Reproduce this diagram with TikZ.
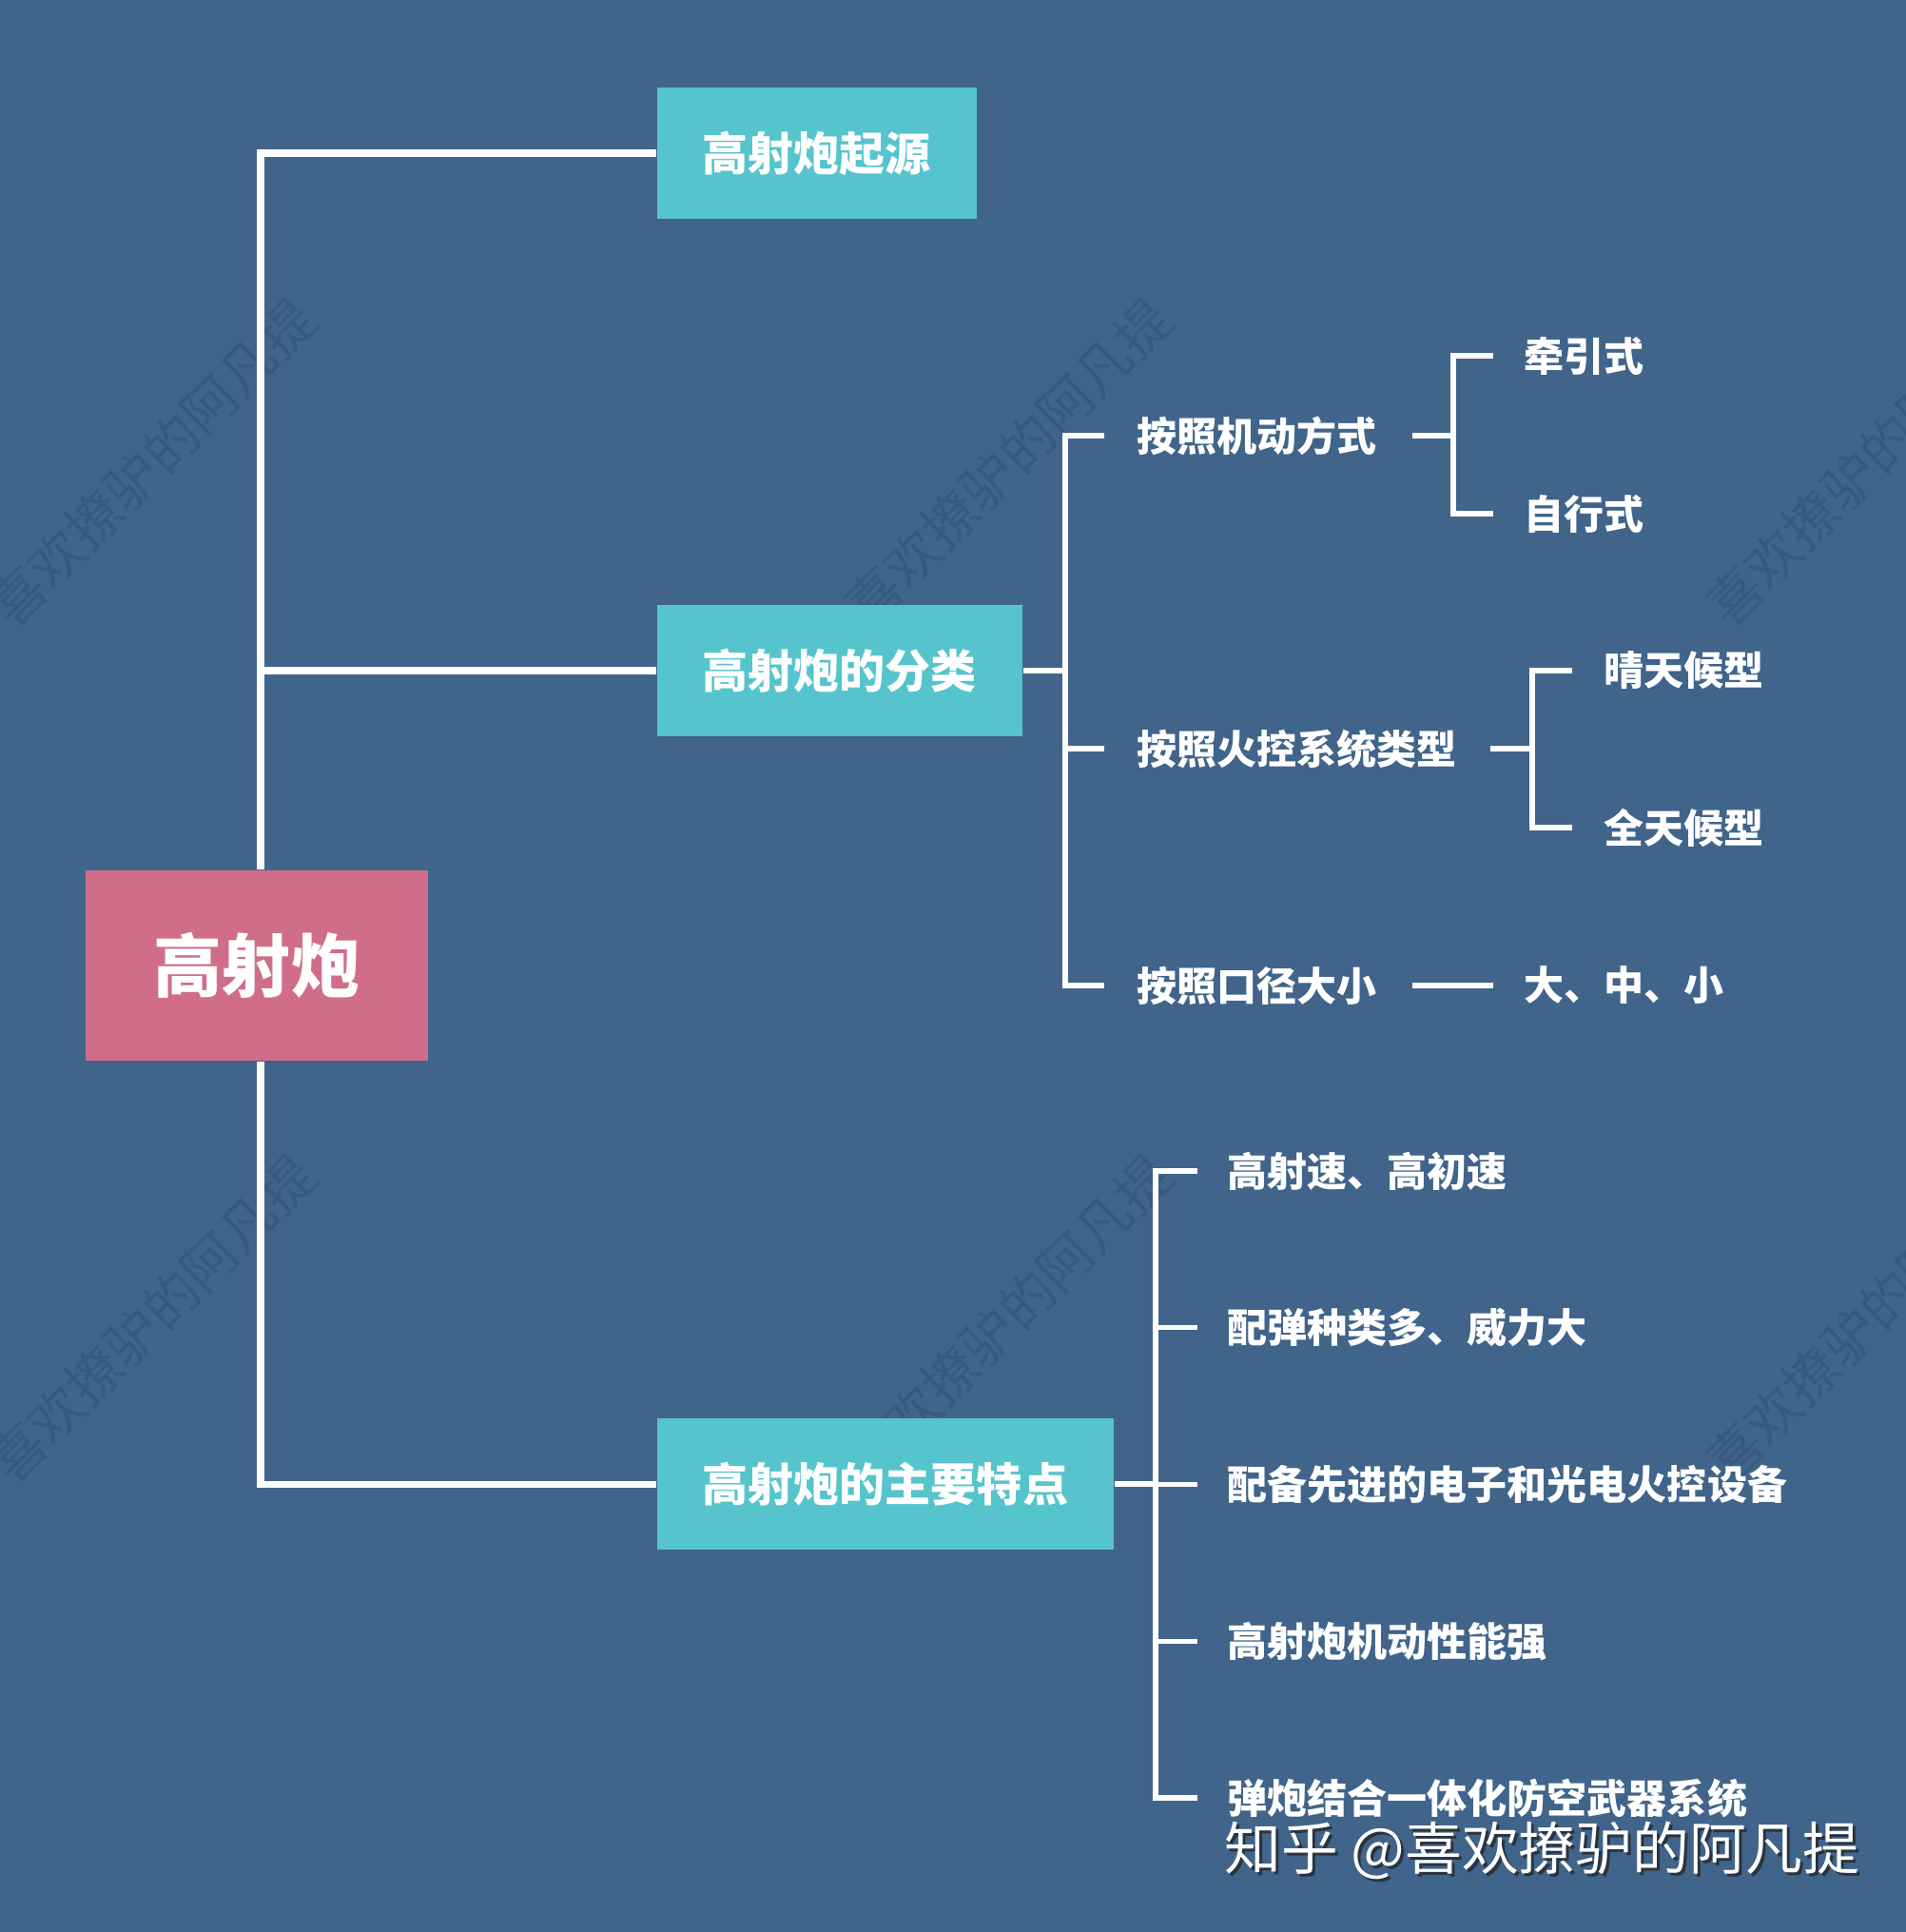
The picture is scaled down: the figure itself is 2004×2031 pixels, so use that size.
\documentclass[tikz,border=0pt]{standalone}
\usepackage{fontspec}
\setmainfont{Noto Sans CJK SC}[BoldFont={Noto Sans CJK SC Black}]
\definecolor{bgblue}{HTML}{40648A}
\definecolor{wmblue}{HTML}{385A80}
\definecolor{tealbx}{HTML}{56C4CC}
\definecolor{rosepk}{HTML}{D06E8A}
\definecolor{shadowgy}{HTML}{2A3440}

\begin{document}
\begin{tikzpicture}[x=0.01cm,y=-0.01cm,
  rootbox/.style={fill=rosepk,text=white,inner sep=0pt,minimum width=3.6cm,minimum height=2cm,font=\bfseries\fontsize{20.5}{24}\selectfont},
  catbox/.style={fill=tealbx,text=white,anchor=west,inner xsep=0.48cm,inner ysep=0pt,minimum height=1.38cm,font=\bfseries\fontsize{13.66}{16}\selectfont},
  leaf/.style={text=white,anchor=west,inner sep=0pt,font=\bfseries\fontsize{11.95}{14}\selectfont},
  trunk/.style={white,line width=2pt},
  twig/.style={white,line width=1.45pt},
  wmark/.style={text=wmblue,rotate=45,inner sep=0pt,font=\fontsize{16.2}{18}\selectfont},
  zhihu/.style={anchor=west,inner sep=0pt,font=\fontsize{17}{20}\selectfont}]
\useasboundingbox (0,0) rectangle (2004,2031);
\clip (0,0) rectangle (2004,2031);
\fill[bgblue] (0,0) rectangle (2004,2031);
\foreach \x in {160,1060,1965}{
  \foreach \y in {486,1386}{
    \node[wmark] (wm-\x-\y) at (\x,\y) {喜欢撩驴的阿凡提};
  }
}
\node[rootbox] (root) at (270,1015) {高射炮};
\node[catbox] (origin) at (690,161) {高射炮起源};
\node[catbox] (classify) at (690,705) {高射炮的分类};
\node[catbox] (feature) at (690,1560) {高射炮的主要特点};
\draw[trunk] (origin.west) -| ([xshift=0.04cm]root.north);
\draw[trunk] (classify.west) -- ([xshift=0.04cm]root.north |- classify.west);
\draw[trunk] (feature.west) -| ([xshift=0.04cm]root.south);

\coordinate (cj) at (1120,705);
\node[leaf] (mob) at (1195,458) {按照机动方式};
\node[leaf] (fire) at (1195,787) {按照火控系统类型};
\node[leaf] (cal) at (1195,1036) {按照口径大小};
\draw[twig] (classify.east) -- (cj);
\foreach \n in {mob,fire,cal}
  \draw[twig] ([xshift=-0.34cm]\n.west) -| (cj);

\coordinate (mj) at (1528,458);
\node[leaf] (tow) at (1602,374) {牵引式};
\node[leaf] (self) at (1602,540) {自行式};
\draw[twig] ([xshift=0.36cm]mob.east) -- (mj);
\foreach \n in {tow,self}
  \draw[twig] ([xshift=-0.32cm]\n.west) -| (mj);

\coordinate (hj) at (1611,787);
\node[leaf] (fair) at (1686,705) {晴天候型};
\node[leaf] (allw) at (1686,870) {全天候型};
\draw[twig] ([xshift=0.34cm]fire.east) -- (hj);
\foreach \n in {fair,allw}
  \draw[twig] ([xshift=-0.33cm]\n.west) -| (hj);

\node[leaf] (size) at (1602,1036) {大、中、小};
\draw[twig] ([xshift=0.36cm]cal.east) -- ([xshift=-0.32cm]size.west);

\coordinate (fj) at (1215,1560);
\foreach \i/\txt in {1/高射速、高初速,2/配弹种类多、威力大,3/配备先进的电子和光电火控设备,4/高射炮机动性能强,5/弹炮结合一体化防空武器系统}
  \node[leaf] (f\i) at (1290,{1066.25+164.75*\i}) {\txt};
\draw[twig] (feature.east) -- (fj);
\foreach \i in {1,...,5}
  \draw[twig] ([xshift=-0.31cm]f\i.west) -| (fj);

\node[zhihu,text=shadowgy] (zhs) at (1290,1948) {知乎 @喜欢撩驴的阿凡提};
\node[zhihu,text=white] (zh) at (1287,1945) {知乎 @喜欢撩驴的阿凡提};
\end{tikzpicture}
\end{document}
